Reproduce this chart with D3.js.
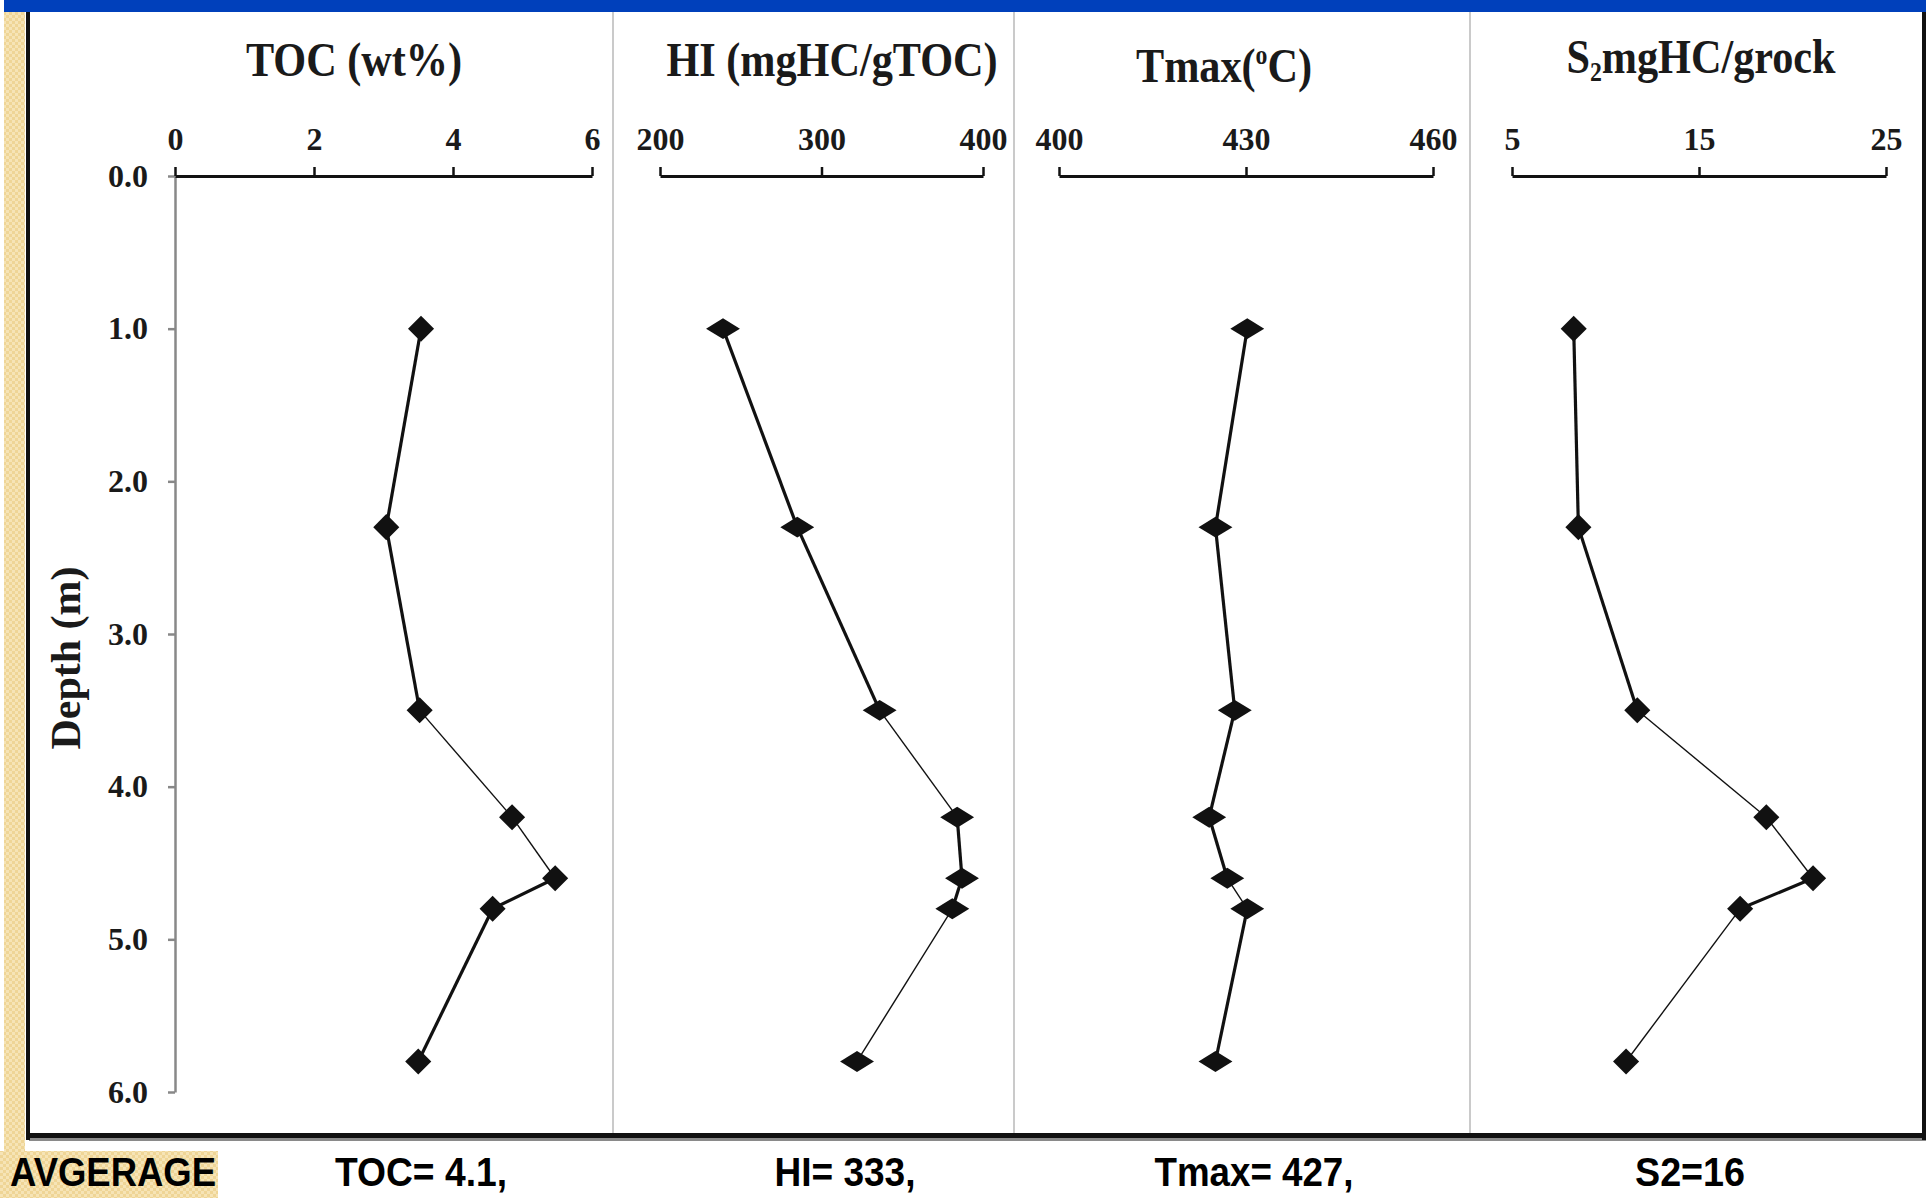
<!DOCTYPE html>
<html>
<head>
<meta charset="utf-8">
<script src="https://cdn.jsdelivr.net/npm/d3@7"></script>
<style>
  html, body { margin: 0; padding: 0; background: #fff; }
  svg { display: block; }
</style>
</head>
<body>
<svg id="chart"></svg>
<script>
const depths = [1.0, 2.3, 3.5, 4.2, 4.6, 4.8, 5.8];
const tocValues = [3.54, 3.04, 3.52, 4.85, 5.47, 4.57, 3.5];
const hiValues = [239, 285, 336, 384, 387, 381, 322];
const tmaxValues = [430.2, 425.1, 428.2, 424.1, 427.0, 430.2, 425.1];
const s2Values = [8.3, 8.55, 11.7, 18.6, 21.1, 17.2, 11.1];

const depthTicks = [0, 1, 2, 3, 4, 5, 6];
const tocTicks = [0, 2, 4, 6];
const hiTicks = [200, 300, 400];
const tmaxTicks = [400, 430, 460];
const s2Ticks = [5, 15, 25];

const averageLabels = ["TOC= 4.1,", "HI= 333,", "Tmax= 427,", "S2=16"];

const W = 1930, H = 1198;
const serif = "'Liberation Serif', 'Times New Roman', serif";
const sans = "'Liberation Sans', Arial, sans-serif";

// panel layout (pixel ranges of each value axis)
const panels = [
  { key: "toc", values: tocValues, ticks: tocTicks, domain: [0, 6], range: [175, 592],
    titleX: 354, titleY: 76, avgX: 421, aspect: [1, 1],
    weights: [1, 1, 0, 0, 1, 1] },
  { key: "hi", values: hiValues, ticks: hiTicks, domain: [200, 400], range: [660, 983],
    titleX: 832, titleY: 76, avgX: 845, aspect: [1.3, 0.8],
    weights: [1, 1, 0, 1, 1, 0] },
  { key: "tmax", values: tmaxValues, ticks: tmaxTicks, domain: [400, 460], range: [1059, 1433],
    titleX: 1224, titleY: 82, avgX: 1254, aspect: [1.3, 0.8],
    weights: [1, 1, 1, 1, 0, 1] },
  { key: "s2", values: s2Values, ticks: s2Ticks, domain: [5, 25], range: [1512, 1886],
    titleX: 1701, titleY: 73, avgX: 1690, aspect: [1, 1],
    weights: [1, 1, 0, 0, 1, 0] },
];

const axisY = 176;
const yScale = d3.scaleLinear().domain([0, 6]).range([176, 1092]);

const svg = d3.select("#chart").attr("width", W).attr("height", H);

// beige checker pattern for the slide strip
const defs = svg.append("defs");
const pat = defs.append("pattern").attr("id", "beige")
  .attr("width", 6).attr("height", 6).attr("patternUnits", "userSpaceOnUse");
pat.append("rect").attr("width", 6).attr("height", 6).attr("fill", "#efd596");
pat.append("rect").attr("width", 3).attr("height", 3).attr("fill", "#f6e4b6");
pat.append("rect").attr("x", 3).attr("y", 3).attr("width", 3).attr("height", 3).attr("fill", "#f6e4b6");

// slide decoration
svg.append("rect").attr("x", 4).attr("y", 12).attr("width", 21).attr("height", H - 12).attr("fill", "url(#beige)");
svg.append("rect").attr("x", 0).attr("y", 1151).attr("width", 218).attr("height", 47).attr("fill", "url(#beige)");
svg.append("rect").attr("x", 4).attr("y", 0).attr("width", 1922).attr("height", 12).attr("fill", "#0040bb");

// panel separators
[613, 1014, 1470].forEach(x => {
  svg.append("line").attr("x1", x).attr("x2", x).attr("y1", 12).attr("y2", 1135)
    .attr("stroke", "#b8b8b8").attr("stroke-width", 1.5);
});

// frame
svg.append("rect").attr("x", 29).attr("y", 1138).attr("width", 1897).attr("height", 3).attr("fill", "#8a8a8a");
svg.append("rect").attr("x", 26).attr("y", 12).attr("width", 4).attr("height", 1128).attr("fill", "#111");
svg.append("rect").attr("x", 1922).attr("y", 12).attr("width", 4).attr("height", 1128).attr("fill", "#111");
svg.append("rect").attr("x", 26).attr("y", 1133).attr("width", 1900).attr("height", 5).attr("fill", "#111");

// depth axis
const depthAxis = svg.append("g")
  .attr("transform", "translate(175,0)")
  .call(d3.axisLeft(yScale).tickValues(depthTicks).tickFormat(d3.format(".1f"))
    .tickSize(7).tickSizeOuter(0).tickPadding(20));
depthAxis.select(".domain").attr("stroke", "#888").attr("stroke-width", 2.5);
depthAxis.selectAll(".tick line").attr("stroke", "#888").attr("stroke-width", 2.5);
depthAxis.selectAll(".tick text")
  .attr("font-family", serif).attr("font-weight", "bold").attr("font-size", 32).attr("fill", "#1a1a1a");

svg.append("text")
  .attr("transform", "translate(80,658) rotate(-90)")
  .attr("text-anchor", "middle")
  .attr("font-family", serif).attr("font-weight", "bold").attr("font-size", 42).attr("fill", "#1a1a1a")
  .text("Depth (m)");

panels.forEach(p => {
  const x = d3.scaleLinear().domain(p.domain).range(p.range);
  const g = svg.append("g").attr("class", "panel-" + p.key);

  const ax = g.append("g").attr("transform", `translate(0,${axisY})`)
    .call(d3.axisTop(x).tickValues(p.ticks).tickFormat(d3.format("d"))
      .tickSize(9).tickSizeOuter(0).tickPadding(17));
  ax.select(".domain").attr("stroke", "#111").attr("stroke-width", 3);
  ax.selectAll(".tick line").attr("stroke", "#111").attr("stroke-width", 2.5);
  ax.selectAll(".tick text")
    .attr("font-family", serif).attr("font-weight", "bold").attr("font-size", 32).attr("fill", "#1a1a1a");

  const pts = p.values.map((v, i) => [x(v), yScale(depths[i])]);

  // segments have different stroke weights in the original
  d3.pairs(pts).forEach((pair, i) => {
    g.append("path")
      .attr("d", d3.line()(pair))
      .attr("fill", "none")
      .attr("stroke", "#111")
      .attr("stroke-width", p.weights[i] ? 3.2 : 1.4);
  });

  const sym = d3.symbol().type(d3.symbolSquare).size(340);
  g.selectAll("path.marker").data(pts).join("path")
    .attr("class", "marker")
    .attr("d", sym)
    .attr("fill", "#111")
    .attr("transform", d => `translate(${d[0]},${d[1]}) scale(${p.aspect[0]},${p.aspect[1]}) rotate(45)`);

  // title, set slightly narrow like the original
  const t = svg.append("text")
    .attr("transform", `translate(${p.titleX},${p.titleY}) scale(0.88,1)`)
    .attr("text-anchor", "middle")
    .attr("font-family", serif).attr("font-weight", "bold").attr("font-size", 48).attr("fill", "#1a1a1a");
  if (p.key === "toc") t.text("TOC (wt%)");
  if (p.key === "hi") t.text("HI (mgHC/gTOC)");
  if (p.key === "tmax") {
    t.append("tspan").text("Tmax(");
    t.append("tspan").attr("font-size", 27).attr("dy", -18).text("o");
    t.append("tspan").attr("dy", 18).text("C)");
  }
  if (p.key === "s2") {
    t.append("tspan").text("S");
    t.append("tspan").attr("font-size", 27).attr("dy", 8).text("2");
    t.append("tspan").attr("dy", -8).text("mgHC/grock");
  }
});

// averages row
svg.append("text")
  .attr("x", 10).attr("y", 1186)
  .attr("font-family", sans).attr("font-weight", "bold").attr("font-size", 40).attr("fill", "#000")
  .attr("textLength", 206).attr("lengthAdjust", "spacingAndGlyphs")
  .text("AVGERAGE");

const avgWidths = [172, 141, 199, 110];
svg.selectAll("text.avg").data(averageLabels).join("text")
  .attr("class", "avg")
  .attr("x", (d, i) => panels[i].avgX - avgWidths[i] / 2)
  .attr("y", 1186)
  .attr("font-family", sans).attr("font-weight", "bold").attr("font-size", 40).attr("fill", "#000")
  .attr("textLength", (d, i) => avgWidths[i]).attr("lengthAdjust", "spacingAndGlyphs")
  .text(d => d);
</script>
</body>
</html>
